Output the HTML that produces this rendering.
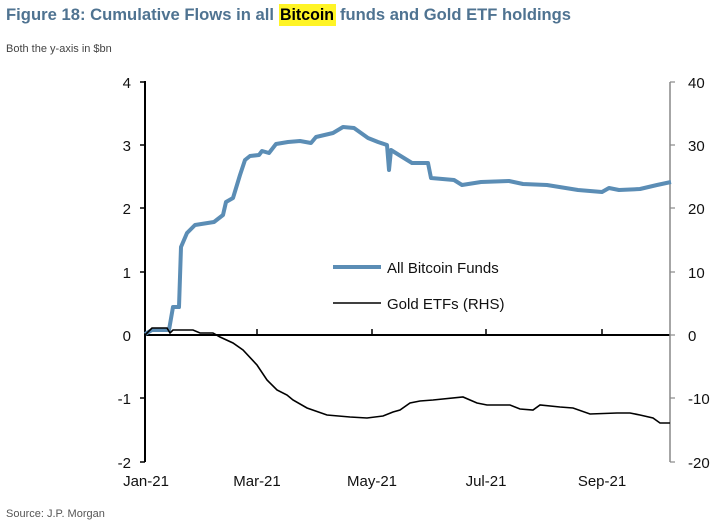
<!DOCTYPE html>
<html><head><style>
body{margin:0;background:#fff;width:720px;height:526px;overflow:hidden;font-family:"Liberation Sans",Arial,sans-serif;}
</style></head><body>
<svg width="720" height="526" xmlns="http://www.w3.org/2000/svg" font-family="Liberation Sans, Arial, sans-serif">
<rect x="279" y="4" width="57" height="22" fill="#fff200" opacity="0.85"/>
<g font-size="16.5" font-weight="bold" fill="#4f7391">
<text x="6" y="20" textLength="268" lengthAdjust="spacingAndGlyphs">Figure 18: Cumulative Flows in all</text>
<text x="280" y="20" textLength="54" lengthAdjust="spacingAndGlyphs" fill="#000">Bitcoin</text>
<text x="340" y="20" textLength="231" lengthAdjust="spacingAndGlyphs">funds and Gold ETF holdings</text>
</g>
<text x="6" y="52" font-size="11" fill="#444">Both the y-axis in $bn</text>
<text x="6" y="517" font-size="11" fill="#555">Source: J.P. Morgan</text>
<line x1="145" y1="81" x2="145" y2="462" stroke="#000" stroke-width="2"/>
<g stroke="#000" stroke-width="1.5">
<line x1="140" y1="82" x2="145" y2="82"/><line x1="140" y1="145" x2="145" y2="145"/><line x1="140" y1="208" x2="145" y2="208"/><line x1="140" y1="272" x2="145" y2="272"/><line x1="140" y1="398" x2="145" y2="398"/><line x1="140" y1="462" x2="145" y2="462"/>
<line x1="145" y1="335" x2="670" y2="335" stroke-width="2"/>
<line x1="257" y1="329" x2="257" y2="335"/><line x1="372" y1="329" x2="372" y2="335"/><line x1="486" y1="329" x2="486" y2="335"/><line x1="602" y1="329" x2="602" y2="335"/>
</g>
<line x1="670" y1="82" x2="670" y2="462" stroke="#888" stroke-width="1.5"/>
<g stroke="#888" stroke-width="1.2">
<line x1="670" y1="82" x2="675" y2="82"/><line x1="670" y1="145" x2="675" y2="145"/><line x1="670" y1="208" x2="675" y2="208"/><line x1="670" y1="272" x2="675" y2="272"/><line x1="670" y1="335" x2="675" y2="335"/><line x1="670" y1="398" x2="675" y2="398"/><line x1="670" y1="462" x2="675" y2="462"/>
</g>
<g font-size="15" fill="#111" text-anchor="end">
<text x="131" y="88">4</text><text x="131" y="151">3</text><text x="131" y="214">2</text><text x="131" y="278">1</text><text x="131" y="341">0</text><text x="131" y="404">-1</text><text x="131" y="468">-2</text>
</g>
<g font-size="15" fill="#111">
<text x="688" y="88">40</text><text x="688" y="151">30</text><text x="688" y="214">20</text><text x="688" y="278">10</text><text x="688" y="341">0</text><text x="688" y="404">-10</text><text x="688" y="468">-20</text>
</g>
<g font-size="15" fill="#111" text-anchor="middle">
<text x="146" y="486">Jan-21</text><text x="257" y="486">Mar-21</text><text x="372" y="486">May-21</text><text x="486" y="486">Jul-21</text><text x="602" y="486">Sep-21</text>
</g>
<polyline fill="none" stroke="#5b8db5" stroke-width="4" stroke-linejoin="round" points="145,334 152,330 169,330 173,307 179,307 181,247 187,233 195,225 214,222 223,215 226,202 233,198 240,175 245,160 250,156 259,155 262,151 269,153 276,144 288,142 300,141 311,143 316,137 333,133 343,127 354,128 368,138 378,142 387,145 389,170 391,150 399,155 412,163 428,163 431,178 454,180 462,185 481,182 509,181 523,184 547,185 578,190 602,192 609,188 619,190 640,189 657,185 671,182"/>
<polyline fill="none" stroke="#000" stroke-width="1.6" points="145,335 152,328 167,328 170,333 173,330 193,330 200,333 213,333 220,337 233,343 243,350 257,365 267,380 277,390 287,395 293,400 307,408 327,415 350,417 367,418 383,416 393,412 400,410 410,403 420,401 433,400 463,397 477,403 487,405 510,405 520,409 533,410 540,405 560,407 573,408 590,414 617,413 630,413 640,415 653,418 660,423 670,423"/>
<line x1="333" y1="267" x2="381" y2="267" stroke="#5b8db5" stroke-width="4"/>
<text x="387" y="273" font-size="15" fill="#111">All Bitcoin Funds</text>
<line x1="333" y1="303" x2="381" y2="303" stroke="#000" stroke-width="1.6"/>
<text x="387" y="309" font-size="15" fill="#111">Gold ETFs (RHS)</text>
</svg>
</body></html>
